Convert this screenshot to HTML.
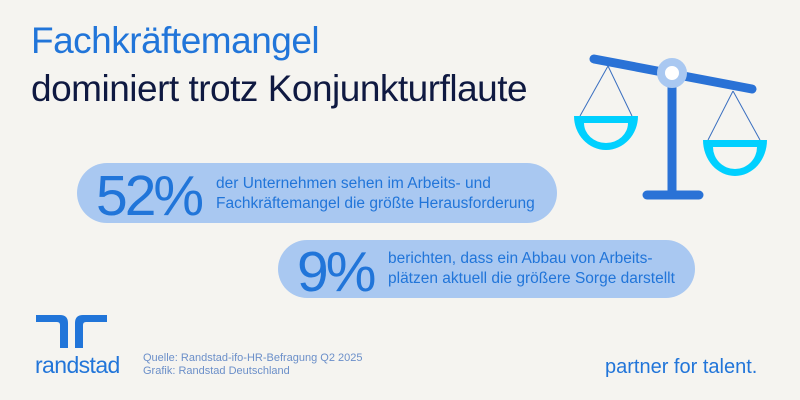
<!DOCTYPE html>
<html><head><meta charset="utf-8"><style>
body{margin:0;width:800px;height:400px;background:#f5f4f0;position:relative;overflow:hidden;font-family:"Liberation Sans",sans-serif}
.a{position:absolute;white-space:nowrap}
.pill{position:absolute;background:#a9c8f1;border-radius:30px}
</style></head><body>
<div class="a" style="left:31px;top:20px;font-size:37px;color:#2175d9;letter-spacing:-0.5px">Fachkräftemangel</div>
<div class="a" style="left:31px;top:68px;font-size:37px;color:#0f1941;letter-spacing:-0.5px">dominiert trotz Konjunkturflaute</div>
<div class="pill" style="left:77px;top:163px;width:480px;height:60px"></div>
<div class="pill" style="left:278px;top:240px;width:417px;height:58px"></div>
<div class="a" style="left:96px;top:163px;font-size:57px;color:#2175d9;letter-spacing:-3px">52%</div>
<div class="a" style="left:216px;top:174px;font-size:15.5px;line-height:20px;color:#2175d9">der Unternehmen sehen im Arbeits- und<br>Fachkräftemangel die größte Herausforderung</div>
<div class="a" style="left:297px;top:239px;font-size:57px;color:#2175d9;letter-spacing:-3px">9%</div>
<div class="a" style="left:388px;top:249px;font-size:15.5px;line-height:20px;color:#2175d9">berichten, dass ein Abbau von Arbeits-<br>plätzen aktuell die größere Sorge darstellt</div>
<svg class="a" style="left:0;top:0" width="800" height="400">
<g stroke="#3a6fc0" stroke-width="1"><line x1="608" y1="66" x2="580" y2="116"/><line x1="608" y1="66" x2="632" y2="116"/><line x1="733" y1="91" x2="708" y2="140"/><line x1="733" y1="91" x2="760" y2="140"/></g>
<line x1="594" y1="59" x2="752" y2="89" stroke="#2a72d6" stroke-width="9" stroke-linecap="round"/>
<line x1="672" y1="75" x2="672" y2="195" stroke="#2a72d6" stroke-width="9"/>
<line x1="647" y1="195" x2="699" y2="195" stroke="#2a72d6" stroke-width="9" stroke-linecap="round"/>
<circle cx="672" cy="73" r="11" fill="#fff" stroke="#a9c8f1" stroke-width="8"/>
<path d="M574 116 H638 A32 34 0 0 1 574 116Z M584 123 H628 A22 20 0 0 1 584 123Z" fill="#00d0ff" fill-rule="evenodd"/>
<path d="M703 140 H767 A32 36 0 0 1 703 140Z M713 147 H757 A22 22 0 0 1 713 147Z" fill="#00d0ff" fill-rule="evenodd"/>
<path d="M36 315 H60 Q68 315 68 323 V348 H60 V325 Q60 322 57 322 H36Z" fill="#2175d9"/>
<path d="M107 315 H83 Q75 315 75 323 V348 H83 V325 Q83 322 86 322 H107Z" fill="#2175d9"/>
</svg>
<div class="a" style="left:35px;top:352px;font-size:23px;color:#2175d9;letter-spacing:-0.6px">randstad</div>
<div class="a" style="left:143px;top:352px;font-size:11px;line-height:13px;color:#6b8fc9">Quelle: Randstad-ifo-HR-Befragung Q2 2025<br>Grafik: Randstad Deutschland</div>
<div class="a" style="left:605px;top:356px;font-size:20px;color:#2175d9">partner for talent.</div>
</body></html>
